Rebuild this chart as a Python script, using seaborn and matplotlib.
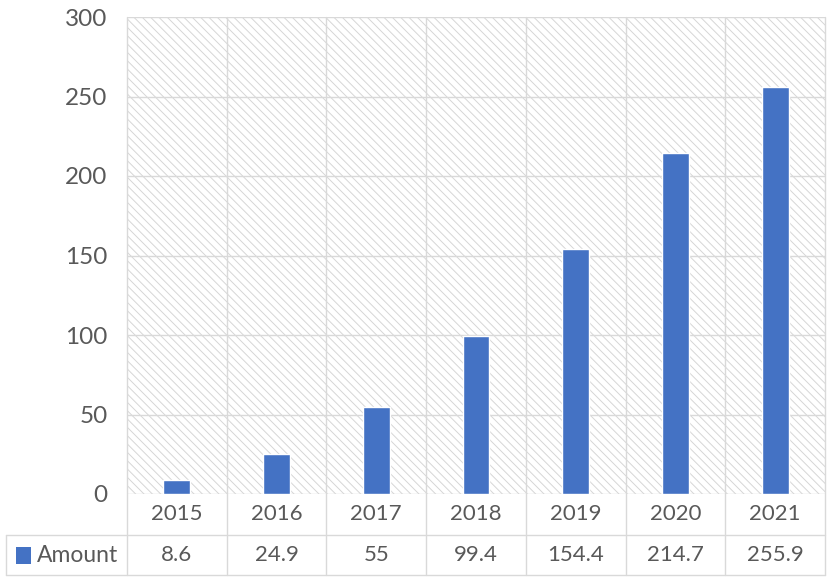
import matplotlib
matplotlib.use("Agg")
import matplotlib.pyplot as plt
import matplotlib.transforms as mtransforms
from matplotlib.patches import Rectangle
import seaborn as sns
import pandas as pd

years = ["2015", "2016", "2017", "2018", "2019", "2020", "2021"]
amount = [8.6, 24.9, 55, 99.4, 154.4, 214.7, 255.9]
amount_labels = ["8.6", "24.9", "55", "99.4", "154.4", "214.7", "255.9"]
series_name = "Amount"
y_ticks = [0, 50, 100, 150, 200, 250, 300]

sns.set_style("white")
plt.rcParams['font.family'] = ['Lato', 'DejaVu Sans']
plt.rcParams['hatch.linewidth'] = 0.7

BAR = '#4472C4'
GRID = '#d9d9d9'
TXT = '#595959'

df = pd.DataFrame({'year': years, 'amount': amount})

fig = plt.figure(figsize=(8.27, 5.83), dpi=100)
W, H = 827, 583
left, right, top, bottom = 127, 825, 17, 494
ax = fig.add_axes([left / W, (H - bottom) / H, (right - left) / W, (bottom - top) / H])

# hatched plot area background
ax.add_patch(Rectangle((0, 0), 1, 1, transform=ax.transAxes, facecolor='white',
                       edgecolor='#d6d6d6', hatch='\\\\\\\\', linewidth=0, zorder=0))

sns.barplot(data=df, x='year', y='amount', color=BAR, width=0.27, saturation=1, ax=ax, zorder=3)

ax.set_ylim(0, 300)
ax.set_xlim(-0.5, len(years) - 0.5)
ax.set_yticks(y_ticks)
ax.set_yticklabels([str(t) for t in y_ticks], fontsize=17.5, color=TXT)
ax.tick_params(axis='y', length=0, pad=14)
ax.tick_params(axis='x', length=0, labelbottom=False)
ax.set_xlabel('')
ax.set_ylabel('')
for s in ax.spines.values():
    s.set_visible(False)
for t in y_ticks:
    ax.axhline(t, color=GRID, lw=1, zorder=1)

# data table below the plot
trans = mtransforms.blended_transform_factory(ax.transData, ax.transAxes)
ph = bottom - top
r1 = -41 / ph
r2 = -81 / ph
col_w = (right - left) / len(years)
leg_left = -0.5 - (left - 6) / col_w
n = len(years)

for i in range(n + 1):
    ax.plot([i - 0.5, i - 0.5], [1, r2], transform=trans, color=GRID, lw=1,
            clip_on=False, zorder=2)
ax.plot([leg_left, leg_left], [r1, r2], transform=trans, color=GRID, lw=1, clip_on=False)
ax.plot([leg_left, n - 0.5], [r1, r1], transform=trans, color=GRID, lw=1, clip_on=False)
ax.plot([leg_left, n - 0.5], [r2, r2], transform=trans, color=GRID, lw=1, clip_on=False)

for i, (y, lab) in enumerate(zip(years, amount_labels)):
    ax.text(i, r1 / 2, y, transform=trans, ha='center', va='center', fontsize=16, color=TXT)
    ax.text(i, (r1 + r2) / 2, lab, transform=trans, ha='center', va='center', fontsize=16, color=TXT)

sq_x = leg_left + 10 / col_w
ax.add_patch(Rectangle((sq_x, (r1 + r2) / 2 - 8.5 / ph), 15 / col_w, 17 / ph, transform=trans,
                       facecolor=BAR, edgecolor='none', clip_on=False))
ax.text(leg_left + 31 / col_w, (r1 + r2) / 2, series_name, transform=trans, ha='left',
        va='center', fontsize=16.5, color=TXT)

fig.savefig('out.png', dpi=100)
